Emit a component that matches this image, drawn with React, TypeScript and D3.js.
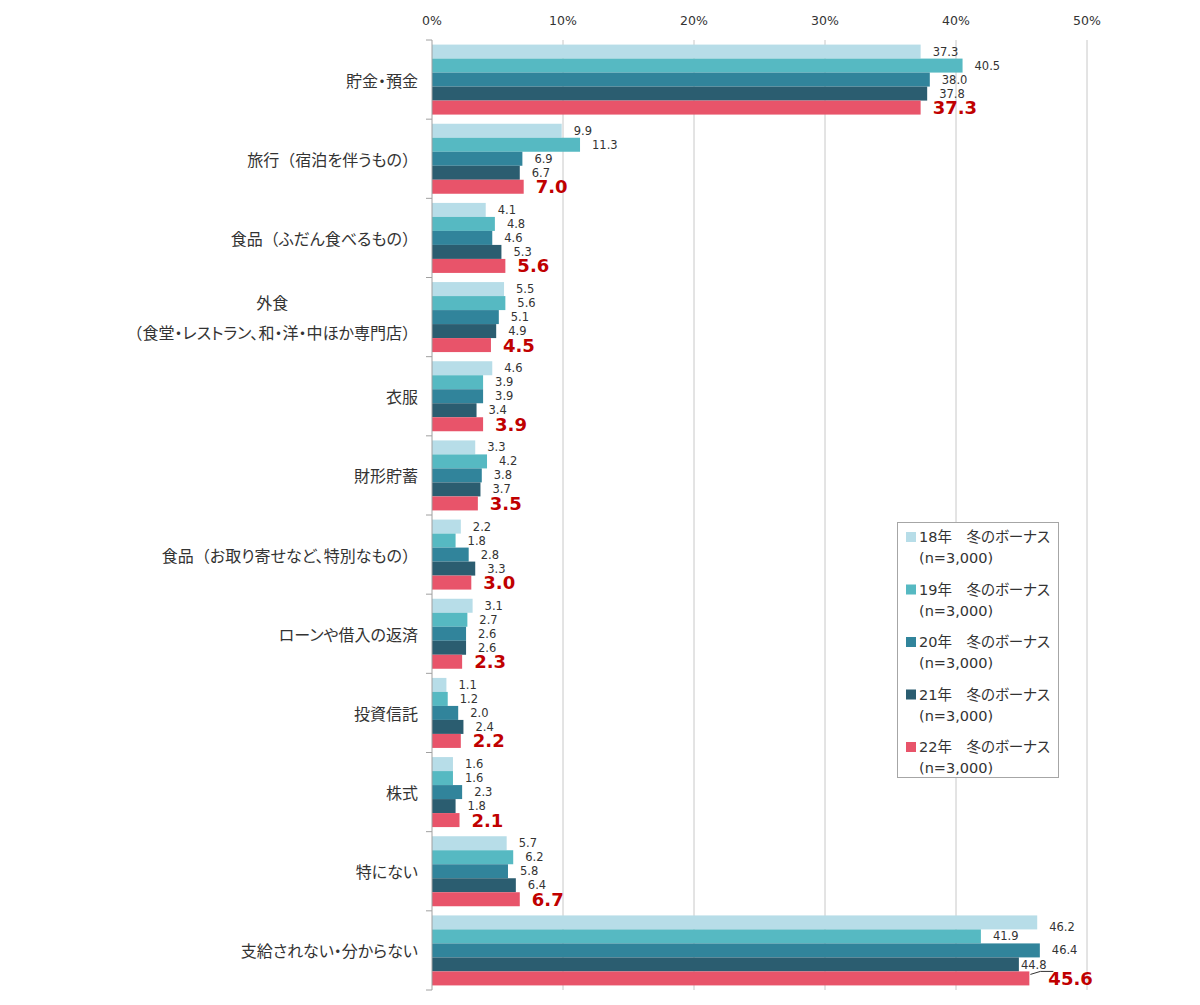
import React, { useEffect, useRef } from "react";
import * as d3 from "d3";

const categories = [
  "貯金・預金",
  "旅行（宿泊を伴うもの）",
  "食品（ふだん食べるもの）",
  "外食\n（食堂・レストラン、和・洋・中ほか専門店）",
  "衣服",
  "財形貯蓄",
  "食品（お取り寄せなど、特別なもの）",
  "ローンや借入の返済",
  "投資信託",
  "株式",
  "特にない",
  "支給されない・分からない",
];

const seriesNames = [
  "18年　冬のボーナス",
  "19年　冬のボーナス",
  "20年　冬のボーナス",
  "21年　冬のボーナス",
  "22年　冬のボーナス",
];
const seriesNote = "(n=3,000)";

const v18 = [37.3, 9.9, 4.1, 5.5, 4.6, 3.3, 2.2, 3.1, 1.1, 1.6, 5.7, 46.2];
const v19 = [40.5, 11.3, 4.8, 5.6, 3.9, 4.2, 1.8, 2.7, 1.2, 1.6, 6.2, 41.9];
const v20 = [38.0, 6.9, 4.6, 5.1, 3.9, 3.8, 2.8, 2.6, 2.0, 2.3, 5.8, 46.4];
const v21 = [37.8, 6.7, 5.3, 4.9, 3.4, 3.7, 3.3, 2.6, 2.4, 1.8, 6.4, 44.8];
const v22 = [37.3, 7.0, 5.6, 4.5, 3.9, 3.5, 3.0, 2.3, 2.2, 2.1, 6.7, 45.6];
const seriesValues = [v18, v19, v20, v21, v22];

const xTicks = [0, 10, 20, 30, 40, 50];
const colors = ["#b7dde8", "#56b9c2", "#31849b", "#2b5d70", "#e8546a"];

const FONT = "'DejaVu Sans', 'Noto Sans CJK JP', sans-serif";
const CJK = "'Noto Sans CJK JP', 'Noto Sans', sans-serif";

export default function App() {
  const ref = useRef<SVGSVGElement>(null);

  useEffect(() => {
    const svg = d3.select(ref.current);
    svg.selectAll("*").remove();

    const left = 432;
    const right = 1087;
    const top = 40;
    const bottom = 990;

    const x = d3.scaleLinear().domain([0, 50]).range([left, right]);
    const y = d3.scaleBand<number>().domain(d3.range(categories.length)).range([top, bottom]);
    const bw = y.bandwidth();
    const barH = 14;
    const groupPad = (bw - barH * 5) / 2;

    // gridlines
    svg
      .append("g")
      .selectAll("line")
      .data(xTicks.slice(1))
      .join("line")
      .attr("x1", (d) => x(d))
      .attr("x2", (d) => x(d))
      .attr("y1", top)
      .attr("y2", bottom)
      .attr("stroke", "#c8c8c8")
      .attr("stroke-width", 1);

    // tick labels
    svg
      .append("g")
      .selectAll("text")
      .data(xTicks)
      .join("text")
      .attr("x", (d) => x(d))
      .attr("y", 20)
      .attr("text-anchor", "middle")
      .attr("dominant-baseline", "central")
      .attr("font-family", FONT)
      .attr("font-size", 12.5)
      .attr("fill", "#333")
      .text((d) => `${d}%`);

    // bars
    const bars = svg.append("g");
    seriesValues.forEach((vals, si) => {
      bars
        .append("g")
        .selectAll("rect")
        .data(vals)
        .join("rect")
        .attr("x", x(0))
        .attr("y", (_, i) => (y(i) as number) + groupPad + si * barH)
        .attr("width", (d) => x(d) - x(0))
        .attr("height", barH)
        .attr("fill", colors[si]);
    });

    // left axis
    svg
      .append("line")
      .attr("x1", left)
      .attr("x2", left)
      .attr("y1", top)
      .attr("y2", bottom)
      .attr("stroke", "#a0a0a0");
    svg
      .append("g")
      .selectAll("line")
      .data(d3.range(categories.length + 1))
      .join("line")
      .attr("x1", left - 6)
      .attr("x2", left)
      .attr("y1", (i) => top + i * bw)
      .attr("y2", (i) => top + i * bw)
      .attr("stroke", "#a0a0a0");

    // value labels
    const labels = svg.append("g");
    const last = categories.length - 1;
    seriesValues.forEach((vals, si) => {
      vals.forEach((v, i) => {
        const cy = (y(i) as number) + groupPad + si * barH + barH / 2;
        let lx = x(v) + 12;
        let ly = cy;
        if (i === last && si === 0) ly = cy + 5;
        if (i === last && si === 3) {
          lx = x(v) + 2;
          ly = cy + 1;
        }
        if (i === last && si === 4) lx = x(v) + 19;
        const t = labels
          .append("text")
          .attr("x", lx)
          .attr("y", ly)
          .attr("dominant-baseline", "central")
          .attr("font-family", FONT)
          .text(v.toFixed(1));
        if (si === 4) {
          t.attr("font-size", 18).attr("font-weight", "bold").attr("fill", "#c00000");
        } else {
          t.attr("font-size", 11.5).attr("fill", "#333");
        }
      });
    });
    // leader line for 44.8
    {
      const cy = (y(last) as number) + groupPad + 4 * barH + 3;
      const x0 = x(v22[last]) + 1;
      svg
        .append("path")
        .attr("d", `M${x0},${cy} L${x0 + 10},${cy - 3} L${x0 + 23},${cy - 3}`)
        .attr("fill", "none")
        .attr("stroke", "#333")
        .attr("stroke-width", 1);
    }

    // category labels
    const cat = svg.append("g");
    categories.forEach((c, i) => {
      const lines = c.split("\n");
      const cy = (y(i) as number) + bw / 2;
      const lh = 30;
      const texts = lines.map((ln, li) => {
        const t = cat
          .append("text")
          .attr("y", cy + (li - (lines.length - 1) / 2) * lh)
          .attr("dominant-baseline", "central")
          .attr("font-family", CJK)
          .attr("font-size", 16)
          .attr("fill", "#333")
          .attr("text-anchor", "middle");
        const runs = ln.match(/[（）]|[^（）]+/g) || [];
        runs.forEach((r) => {
          t.append("tspan")
            .style("font-feature-settings", /^[（）]$/.test(r) ? "normal" : "'palt'")
            .text(r);
        });
        return t;
      });
      const widths = texts.map((t) => (t.node() as SVGTextElement).getComputedTextLength());
      const maxW = Math.max(...widths);
      const cx = 418 - maxW / 2;
      texts.forEach((t) => t.attr("x", cx));
    });

    // legend
    const lg = svg.append("g");
    lg.append("rect")
      .attr("x", 897.5)
      .attr("y", 522.5)
      .attr("width", 161)
      .attr("height", 255)
      .attr("fill", "#fff")
      .attr("stroke", "#a6a6a6");
    seriesNames.forEach((n, si) => {
      const y0 = 537 + si * 52.5;
      lg.append("rect")
        .attr("x", 906)
        .attr("y", y0 - 5)
        .attr("width", 10)
        .attr("height", 10)
        .attr("fill", colors[si]);
      lg.append("text")
        .attr("x", 919)
        .attr("y", y0)
        .attr("dominant-baseline", "central")
        .attr("font-family", FONT)
        .attr("font-size", 14.5)
        .style("font-feature-settings", "'palt'")
        .attr("fill", "#333")
        .text(n);
      lg.append("text")
        .attr("x", 919)
        .attr("y", y0 + 21)
        .attr("dominant-baseline", "central")
        .attr("font-family", FONT)
        .attr("font-size", 14.5)
        .attr("fill", "#333")
        .text(seriesNote);
    });
  }, []);

  return (
    <svg
      ref={ref}
      width={1200}
      height={1005}
      style={{ position: "absolute", left: 0, top: 0, background: "#fff" }}
    />
  );
}
